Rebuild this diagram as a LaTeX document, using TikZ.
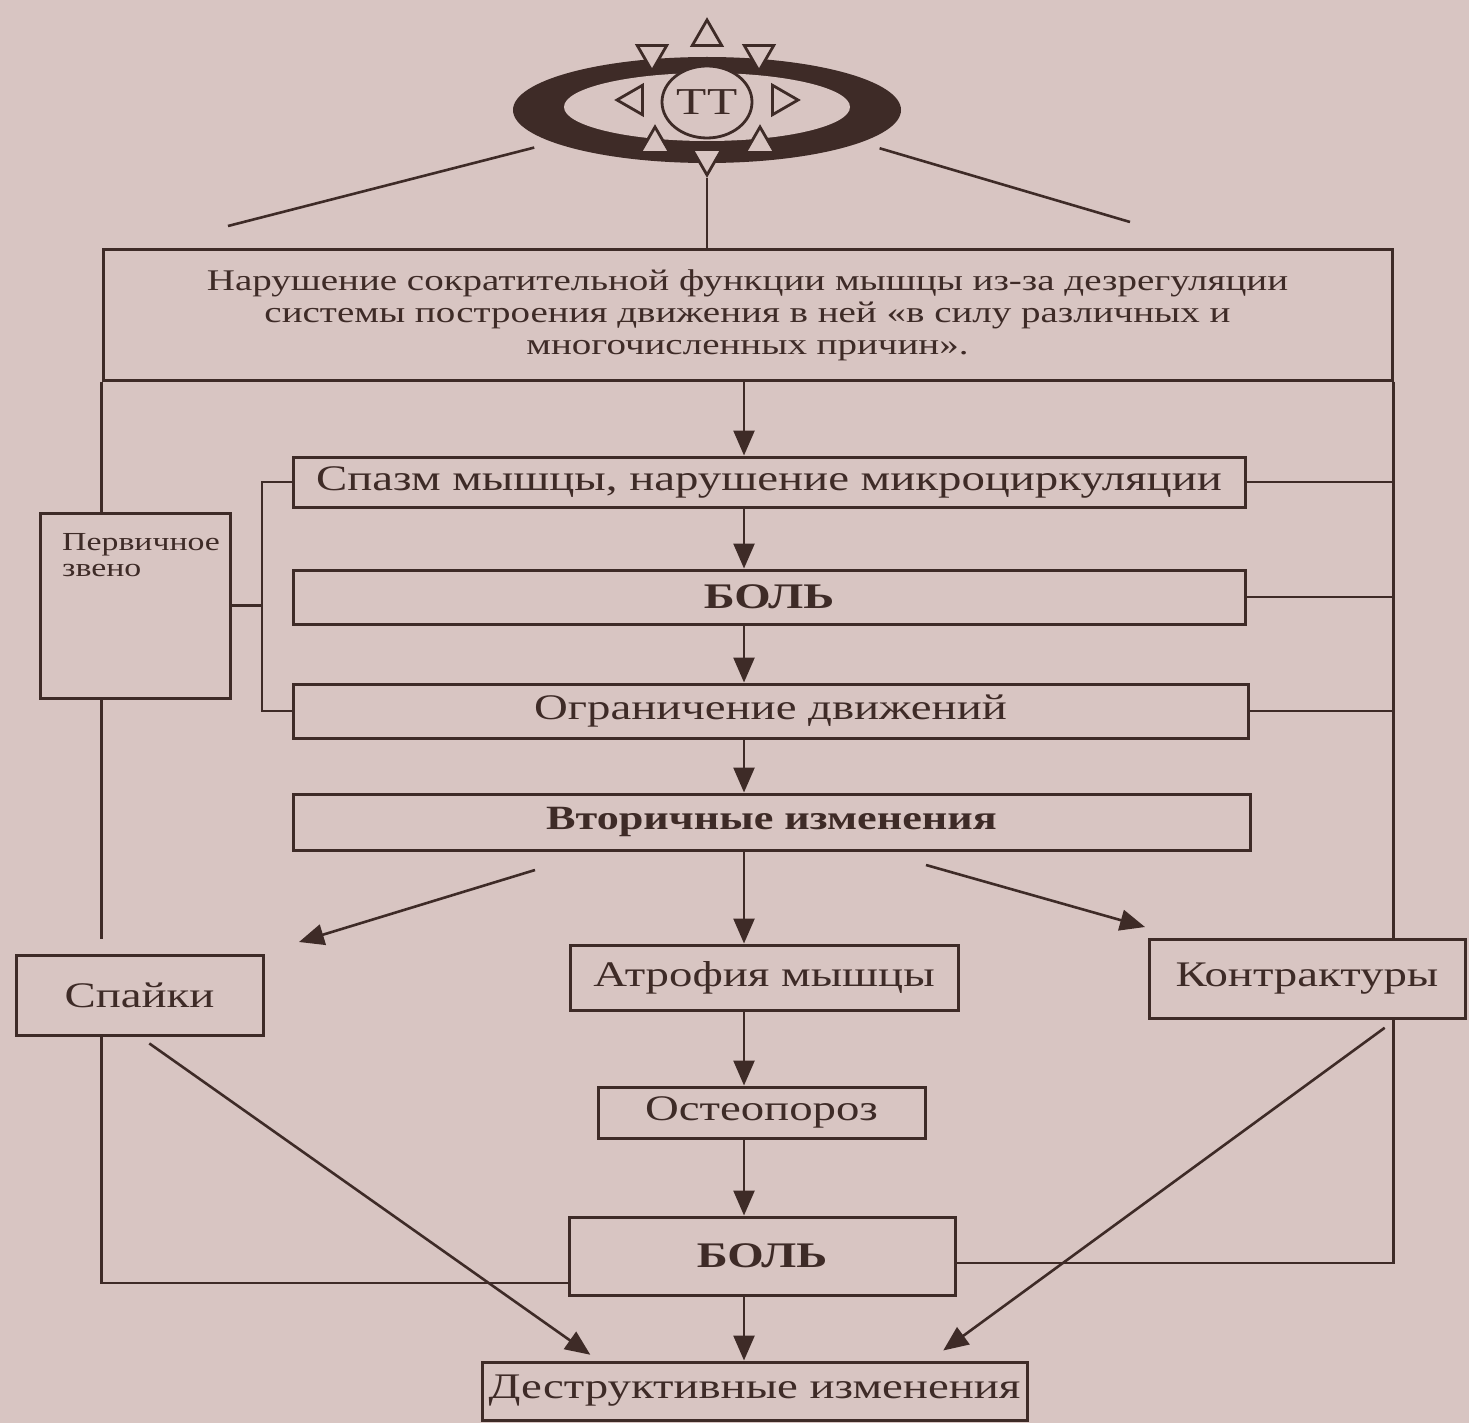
\documentclass[tikz,border=0pt]{standalone}
\usepackage{fontspec}
\setmainfont[FakeStretch=1.3]{Liberation Serif}
\usetikzlibrary{arrows.meta,shapes.geometric}
\definecolor{ink}{HTML}{3E2B27}
\definecolor{paper}{HTML}{D8C5C2}
\tikzset{
  box/.style={draw=ink,line width=3pt,text=ink,align=center,inner sep=0pt,font=\fontsize{36}{40}\selectfont},
  ln/.style={draw=ink,line width=2.6pt},
  ar/.style={ln,-{Triangle[length=25pt,width=21pt]}},
  tri/.style={regular polygon,regular polygon sides=3,draw=ink,fill=paper,line width=2.8pt,minimum size=34pt,inner sep=0pt}
}
\begin{document}
\begin{tikzpicture}[x=1pt,y=-1pt]
\fill[paper] (0,0) rectangle (1469,1423);
\useasboundingbox (0,0) rectangle (1469,1423);
\node[ellipse,fill=ink,minimum width=388pt,minimum height=106pt,inner sep=0pt] (ring) at (707,110) {};
\node[ellipse,fill=paper,minimum width=286pt,minimum height=68pt,inner sep=0pt] (hole) at (707,107) {};
\node[ellipse,draw=ink,fill=paper,line width=2.8pt,minimum width=90pt,minimum height=72pt,inner sep=0pt,text=ink,font=\fontsize{38}{38}\selectfont] (tt) at (707,102) {ТТ};
\foreach \n/\x/\y/\r in {t1/707/37/0,t2/652/54/180,t3/759/54/180,t4/634/100/90,t5/781/100/-90,t6/655/144/0,t7/760/144/0,t8/707/158/180}
  \node[tri,rotate=\r] (\n) at (\x,\y) {};
\coordinate (lend) at (228,226);
\coordinate (rend) at (1130,222);
\coordinate (col) at (744,0);
\coordinate (brk) at (262,0);
\draw[ln,shorten <=20pt] (ring.192) -- (lend);
\draw[ln,shorten <=20pt] (ring.-12) -- (rend);

\node[box,minimum width=1289pt,minimum height=130pt,font=\fontsize{30}{32}\selectfont] (top) at (747.5,315)
  {Нарушение сократительной функции мышцы из-за дезрегуляции\\системы построения движения в ней «в силу различных и\\многочисленных причин».};
\draw[ln] (t8.corner 1) -- (t8.corner 1 |- top.north);

\node[box,minimum width=190pt,minimum height=185pt] (prim) at (135,605.5) {};
\node[text=ink,font=\fontsize{26}{26}\selectfont,align=left,anchor=north west,inner sep=0pt] (primtxt) at (62,533) {Первичное\\звено};
\node[box,minimum width=952pt,minimum height=50pt] (spasm) at (769,482) {Спазм мышцы, нарушение микроциркуляции};
\node[box,minimum width=952pt,minimum height=54pt] (bol1) at (769,597) {\bfseries БОЛЬ};
\node[box,minimum width=955pt,minimum height=54pt] (ogr) at (770.5,711) {Ограничение движений};
\node[box,minimum width=957pt,minimum height=56pt,font=\fontsize{34}{38}\selectfont\bfseries] (vtor) at (771.5,822) {Вторичные изменения};
\node[box,minimum width=247pt,minimum height=80pt] (spayki) at (139.5,995) {Спайки};
\node[box,minimum width=388pt,minimum height=65pt] (atr) at (764,977.5) {Атрофия мышцы};
\node[box,minimum width=316pt,minimum height=79pt] (kontr) at (1307,978.5) {Контрактуры};
\node[box,minimum width=327pt,minimum height=51pt] (osteo) at (761.5,1112.5) {Остеопороз};
\node[box,minimum width=386pt,minimum height=78pt] (bol2) at (762,1256) {\bfseries БОЛЬ};
\node[box,minimum width=545pt,minimum height=58pt] (destr) at (754.5,1391) {Деструктивные изменения};

\foreach \a/\b in {top/spasm,spasm/bol1,bol1/ogr,ogr/vtor,vtor/atr,atr/osteo,osteo/bol2,bol2/destr}
  \draw[ar] (\a.south -| col) -- (\b.north -| col);

\draw[ln] (top.south east) -- (top.south east |- kontr.north);
\foreach \b in {spasm,bol1,ogr}
  \draw[ln] (\b.east) -- (\b.east -| top.east);
\draw[ln] (kontr.south -| top.east) |- ([yshift=-7pt]bol2.east);

\draw[ln] (top.south west) -- (top.south west |- prim.north);
\draw[ln] (prim.south -| top.west) -- ([yshift=15pt]spayki.north -| top.west);
\draw[ln] (spayki.south -| top.west) |- ([yshift=-27pt]bol2.west);
\draw[ln] (spasm.west) -| (brk |- ogr.west) -- (ogr.west);
\draw[ln] (prim.east) -- (prim.east -| brk);

\coordinate (d1) at (535,870);
\coordinate (d2) at (299,942);
\coordinate (d3) at (926,865);
\coordinate (d4) at (1145,927);
\draw[ar] (d1) -- (d2);
\draw[ar] (d3) -- (d4);
\draw[ar,shorten <=12pt,shorten >=10pt] (spayki.south) -- ([xshift=-156pt]destr.north);
\draw[ar,shorten <=14pt,shorten >=17pt] ([xshift=89pt]kontr.south) -- ([xshift=175pt]destr.north);
\end{tikzpicture}
\end{document}
